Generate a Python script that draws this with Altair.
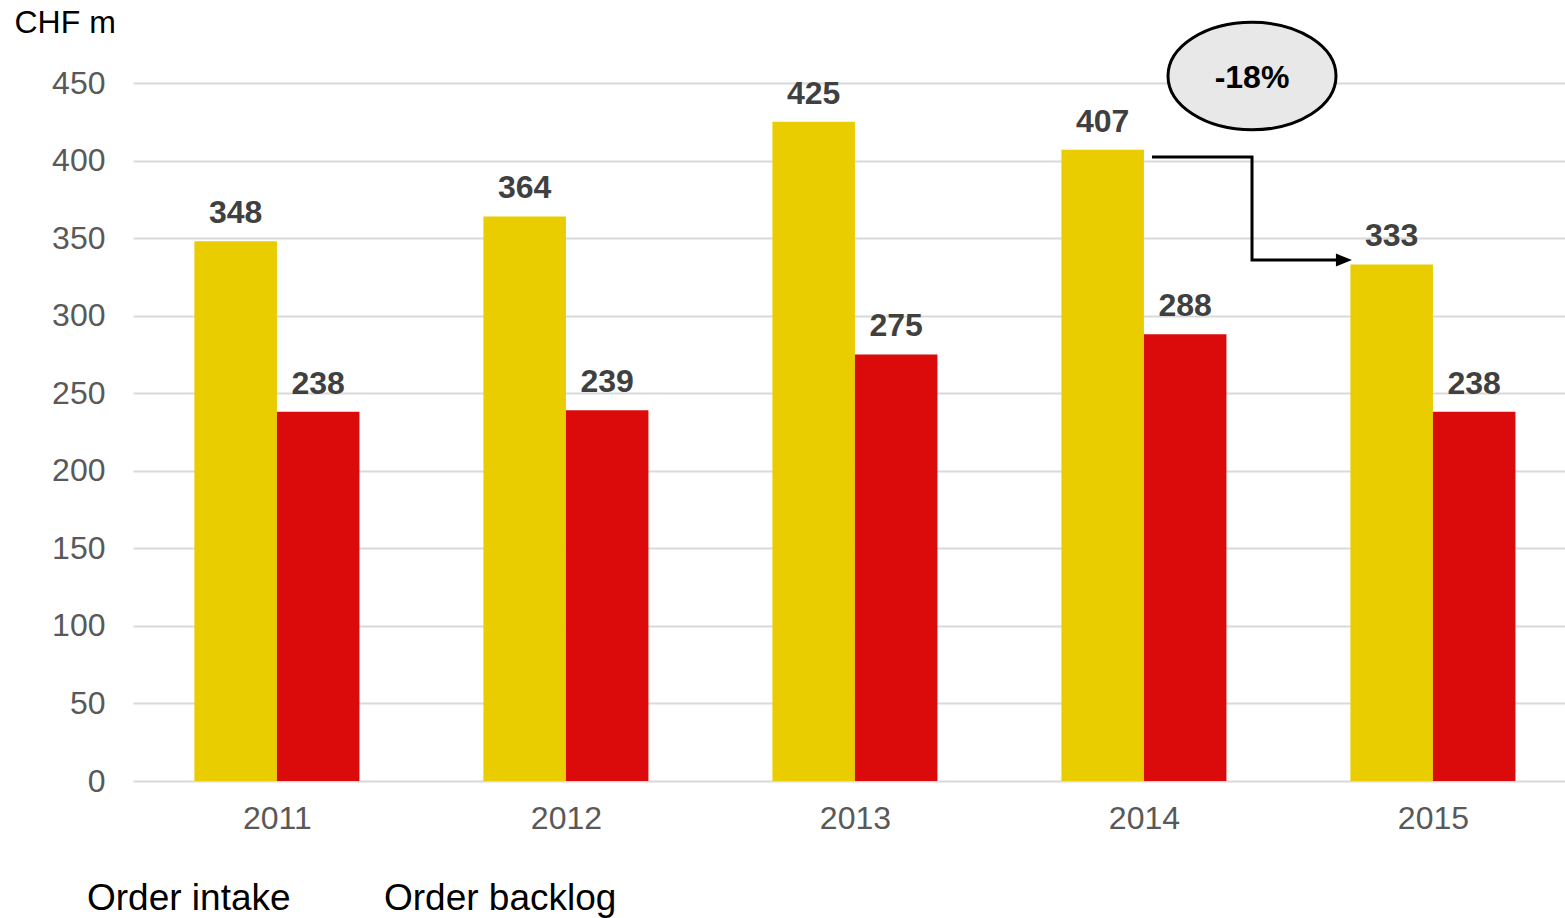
import altair as alt
import pandas as pd

years = [2011, 2012, 2013, 2014, 2015]
order_intake = [348, 364, 425, 407, 333]
order_backlog = [238, 239, 275, 288, 238]
series_names = ["Order intake", "Order backlog"]
colors = ["#E9CD00", "#DC0B0B"]

# annotation (-18% change 2014 -> 2015)
change_label = ["-18%"]
change_x = [2014.374]
change_y = [454.5]
arrow_x = [2014.028, 2014.374, 2014.374, 2014.678]
arrow_y = [402.3, 402.3, 335.9, 335.9]
arrow_head_x = [2014.692]
arrow_head_y = [335.9]

FONT = "Liberation Sans"
BAR_W = 0.2855

rows = []
for y, a, b in zip(years, order_intake, order_backlog):
    rows.append({"year": y, "series": series_names[0], "value": a})
    rows.append({"year": y, "series": series_names[1], "value": b})
df = pd.DataFrame(rows)

xscale = alt.Scale(domain=[2010.502, 2015.457], nice=False, zero=False, padding=0)
yscale = alt.Scale(domain=[0, 450], nice=False, padding=0)

base = alt.Chart(df).transform_calculate(
    x0=f"datum.series == 'Order intake' ? datum.year - {BAR_W} : datum.year",
    x1=f"datum.series == 'Order intake' ? datum.year : datum.year + {BAR_W}",
    xm=f"datum.series == 'Order intake' ? datum.year - {BAR_W/2} : datum.year + {BAR_W/2}",
)

bars = base.mark_bar().encode(
    x=alt.X("x0:Q", scale=xscale,
            axis=alt.Axis(values=years, format="d", title=None, grid=False, domain=False,
                          ticks=False, labelFontSize=32, labelColor="#595959", labelFont=FONT,
                          labelPadding=22)),
    x2="x1:Q",
    y=alt.Y("value:Q", scale=yscale,
            axis=alt.Axis(values=list(range(0, 451, 50)), title="CHF m", titleAngle=0,
                          titleX=-119, titleY=-61, titleAlign="left", titleBaseline="middle",
                          titleFontSize=32, titleFont=FONT, titleFontWeight="normal",
                          titleColor="#000000",
                          grid=True, gridColor="#D9D9D9", gridWidth=2, domain=False,
                          ticks=False, labelFontSize=32, labelColor="#595959", labelFont=FONT,
                          labelPadding=28)),
    y2=alt.datum(0),
    color=alt.Color("series:N", scale=alt.Scale(domain=series_names, range=colors),
                    legend=alt.Legend(orient="none", legendX=-83, legendY=797,
                                      direction="horizontal", title=None,
                                      symbolOpacity=0, symbolSize=0, symbolStrokeWidth=0,
                                      labelOffset=0, columnPadding=56, labelLimit=500,
                                      labelFontSize=37, labelFont=FONT, labelColor="#000000")),
)

labels = base.mark_text(fontSize=32, fontWeight="bold", font=FONT, color="#404040",
                        baseline="alphabetic", dy=-18).encode(
    x=alt.X("xm:Q", scale=xscale),
    y=alt.Y("value:Q", scale=yscale),
    text="value:Q",
)

arrow_df = pd.DataFrame({"x": arrow_x, "y": arrow_y, "i": list(range(len(arrow_x)))})
arrow = alt.Chart(arrow_df).mark_line(color="black", strokeWidth=3, clip=False).encode(
    x=alt.X("x:Q", scale=xscale), y=alt.Y("y:Q", scale=yscale), order="i:Q")

head_df = pd.DataFrame({"x": arrow_head_x, "y": arrow_head_y})
head = alt.Chart(head_df).mark_point(
    shape="M -1 -0.8 L 1 0 L -1 0.8 Z", size=256, filled=True, color="black", opacity=1,
    strokeWidth=0).encode(x=alt.X("x:Q", scale=xscale), y=alt.Y("y:Q", scale=yscale))

ell_df = pd.DataFrame({"x": change_x, "y": change_y, "t": change_label})
ellipse = alt.Chart(ell_df).mark_point(
    shape="M -1 0 A 1 0.64 0 1 1 1 0 A 1 0.64 0 1 1 -1 0 Z", size=28224, filled=True,
    fill="#E8E8E8", stroke="black", strokeWidth=3, opacity=1, fillOpacity=1, clip=False
).encode(x=alt.X("x:Q", scale=xscale), y=alt.Y("y:Q", scale=yscale))
ell_text = alt.Chart(ell_df).mark_text(fontSize=32, fontWeight="bold", font=FONT,
                                       color="#000000", baseline="middle", dy=2).encode(
    x=alt.X("x:Q", scale=xscale), y=alt.Y("y:Q", scale=yscale), text="t:N")

chart = alt.layer(bars, labels, arrow, head, ellipse, ell_text).properties(
    width=1432, height=698,
    autosize=alt.AutoSizeParams(type="none"),
    padding={"left": 133, "top": 83, "right": 0, "bottom": 137},
    background="white",
).configure_view(stroke=None)

chart.save("out.html", embed_options={"renderer": "svg", "actions": False})
